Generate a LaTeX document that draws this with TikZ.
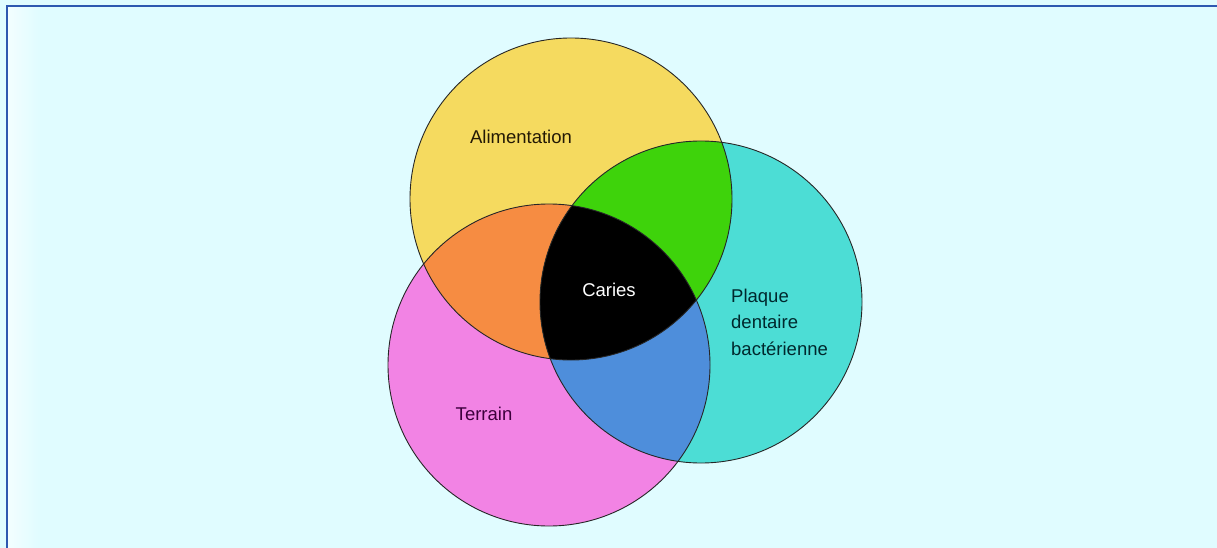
\documentclass[tikz,border=0pt]{standalone}
\usepackage{fontspec}
\setmainfont{Liberation Sans}
\begin{document}
\begin{tikzpicture}[x=1pt,y=-1pt,
  lbl/.style={font=\fontsize{18.5}{26.5}\selectfont, inner sep=0pt},
  outline/.style={draw=black!85, line width=0.9pt}]
\definecolor{bgc}{HTML}{E0FCFF}
\definecolor{bordc}{HTML}{2E58B0}
\definecolor{yel}{HTML}{F5DA5F}
\definecolor{mag}{HTML}{F283E4}
\definecolor{cya}{HTML}{4CDDD5}
\definecolor{ora}{HTML}{F68C42}
\definecolor{gre}{HTML}{3ED30B}
\definecolor{blu}{HTML}{4E8EDB}
\useasboundingbox (0,0) rectangle (1217,548);
\fill[bgc] (0,0) rectangle (1217,548);
\shade[left color=white!60!bgc, right color=bgc] (8,7) rectangle (40,548);
\draw[bordc, line width=2.5pt] (7,548) -- (7,6) -- (1217,6);
\coordinate (cy) at (571,199);
\coordinate (cm) at (549,365);
\coordinate (cc) at (701,302);
\def\rr{161pt}
\fill[yel] (cy) circle[radius=\rr];
\fill[mag] (cm) circle[radius=\rr];
\fill[cya] (cc) circle[radius=\rr];
\begin{scope}
  \clip (cy) circle[radius=\rr];
  \fill[ora] (cm) circle[radius=\rr];
  \fill[gre] (cc) circle[radius=\rr];
\end{scope}
\begin{scope}
  \clip (cm) circle[radius=\rr];
  \fill[blu] (cc) circle[radius=\rr];
  \clip (cc) circle[radius=\rr];
  \fill[black] (cy) circle[radius=\rr];
\end{scope}
\draw[outline] (cy) circle[radius=\rr];
\draw[outline] (cm) circle[radius=\rr];
\draw[outline] (cc) circle[radius=\rr];
\node[lbl, text={rgb,255:red,35;green,25;blue,5}] (alim) at (521,137) {Alimentation};
\node[lbl, text=white] (caries) at (609,290) {Caries};
\node[lbl, text={rgb,255:red,0;green,40;blue,45}, align=left, anchor=west] (plaque) at (731,322) {Plaque\\dentaire\\bactérienne};
\node[lbl, text={rgb,255:red,60;green,0;blue,60}] (terrain) at (484,414) {Terrain};
\end{tikzpicture}
\end{document}
